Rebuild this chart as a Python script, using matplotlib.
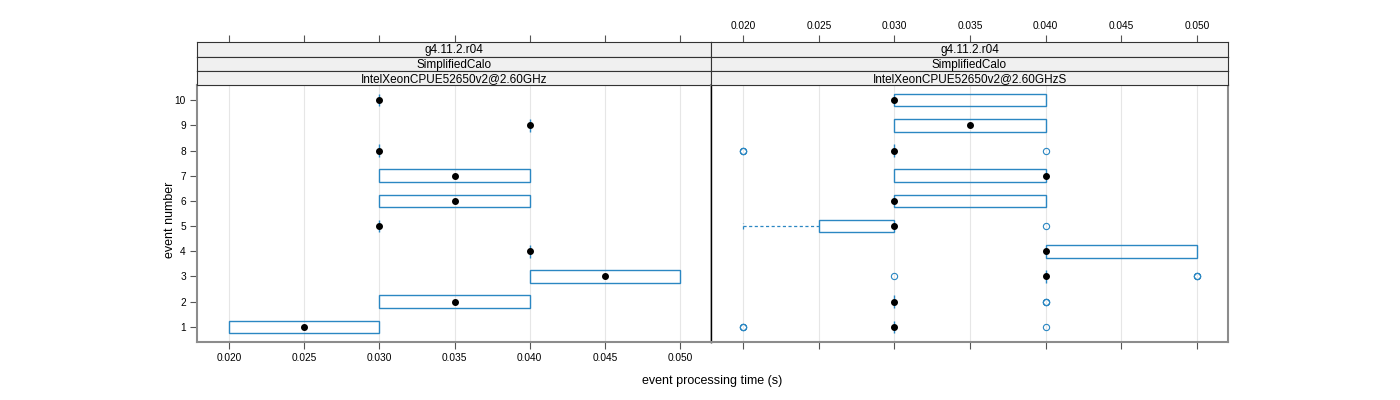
import matplotlib
matplotlib.use("Agg")
import matplotlib.pyplot as plt
from matplotlib.patches import Rectangle

plt.rcParams['font.family'] = ['Liberation Sans', 'DejaVu Sans']

events = [1, 2, 3, 4, 5, 6, 7, 8, 9, 10]
x_ticks = [0.020, 0.025, 0.030, 0.035, 0.040, 0.045, 0.050]
strip_top = "g4.11.2.r04"
strip_mid = "SimplifiedCalo"
strip_labels = ["IntelXeonCPUE52650v2@2.60GHz", "IntelXeonCPUE52650v2@2.60GHzS"]

# left panel: hinges, medians, whiskers, outliers
left_lo = [0.020, 0.030, 0.040, 0.040, 0.030, 0.030, 0.030, 0.030, 0.040, 0.030]
left_med = [0.025, 0.035, 0.045, 0.040, 0.030, 0.035, 0.035, 0.030, 0.040, 0.030]
left_hi = [0.030, 0.040, 0.050, 0.040, 0.030, 0.040, 0.040, 0.030, 0.040, 0.030]
left_wlo = list(left_lo)
left_whi = list(left_hi)
left_out = [[] for _ in events]

# right panel
right_lo = [0.030, 0.030, 0.040, 0.040, 0.025, 0.030, 0.030, 0.030, 0.030, 0.030]
right_med = [0.030, 0.030, 0.040, 0.040, 0.030, 0.030, 0.040, 0.030, 0.035, 0.030]
right_hi = [0.030, 0.030, 0.040, 0.050, 0.030, 0.040, 0.040, 0.030, 0.040, 0.040]
right_wlo = [0.030, 0.030, 0.040, 0.040, 0.020, 0.030, 0.030, 0.030, 0.030, 0.030]
right_whi = list(right_hi)
right_out = [
    [0.020, 0.020, 0.020, 0.040],
    [0.040, 0.040, 0.040],
    [0.030, 0.050, 0.050, 0.050],
    [],
    [0.040],
    [],
    [],
    [0.020, 0.020, 0.020, 0.040],
    [],
    [],
]

blue = "#2b87c2"
frame = "#8c8c8c"
W, H = 1400, 400
xlim = (0.01787, 0.05206)
fig = plt.figure(figsize=(14, 4), dpi=100)

panels = [
    (197, 711, left_lo, left_med, left_hi, left_wlo, left_whi, left_out),
    (711, 1228, right_lo, right_med, right_hi, right_wlo, right_whi, right_out),
]
y_plot_top, y_plot_bot = 85, 342
strip_edges = [42, 57, 71, 85]
tick_labels = ["%.3f" % t for t in x_ticks]

for i, (x0, x1, lo, med, hi, wlo, whi, outl) in enumerate(panels):
    ax = fig.add_axes([x0 / W, 1 - y_plot_bot / H, (x1 - x0) / W, (y_plot_bot - y_plot_top) / H])
    ax.set_xlim(*xlim)
    ax.set_ylim(0.4, 10.6)
    for t in x_ticks:
        ax.axvline(t, color="#e6e6e6", lw=0.8, zorder=0)
    for e, l, m, h, wl, wh, o in zip(events, lo, med, hi, wlo, whi, outl):
        ax.add_patch(Rectangle((l, e - 0.25), h - l, 0.5, fill=False, ec=blue, lw=1.0, zorder=2))
        if wl < l:
            ax.plot([wl, l], [e, e], color=blue, lw=0.9, ls=(0, (2.5, 2)), zorder=2)
            ax.plot([wl, wl], [e - 0.125, e + 0.125], color=blue, lw=0.9, ls=(0, (2.5, 2)), zorder=2)
        if wh > h:
            ax.plot([h, wh], [e, e], color=blue, lw=0.9, ls=(0, (2.5, 2)), zorder=2)
            ax.plot([wh, wh], [e - 0.125, e + 0.125], color=blue, lw=0.9, ls=(0, (2.5, 2)), zorder=2)
        for v in o:
            ax.plot(v, e, 'o', ms=4.5, mfc='none', mec=blue, mew=0.8, zorder=3)
        ax.plot(m, e, 'o', ms=4, color='black', zorder=4)
    ax.set_xticks(x_ticks)
    ax.set_xticklabels(tick_labels)
    ax.set_yticks(events)
    ax.tick_params(axis='both', direction='out', length=5, width=0.8, color='#555555',
                   labelsize=7.3, pad=3)
    ax.tick_params(axis='x', top=False, labeltop=False)
    if i == 0:
        ax.tick_params(axis='x', bottom=True, labelbottom=True)
        ax.tick_params(axis='y', left=True, right=False, labelleft=True)
        ax.spines['right'].set_color('black')
        ax.spines['right'].set_linewidth(1.0)
        for s in ['left', 'top', 'bottom']:
            ax.spines[s].set_color(frame)
            ax.spines[s].set_linewidth(1.5)
    else:
        ax.tick_params(axis='x', bottom=True, labelbottom=False)
        ax.tick_params(axis='y', left=False, right=False, labelleft=False)
        ax.spines['left'].set_color('black')
        ax.spines['left'].set_linewidth(1.0)
        for s in ['right', 'top', 'bottom']:
            ax.spines[s].set_color(frame)
            ax.spines[s].set_linewidth(1.5)

    texts = [strip_top, strip_mid, strip_labels[i]]
    for k in range(3):
        ya, yb = strip_edges[k], strip_edges[k + 1]
        sax = fig.add_axes([x0 / W, 1 - yb / H, (x1 - x0) / W, (yb - ya) / H])
        sax.set_facecolor("#f0f0f0")
        sax.set_xlim(*xlim)
        sax.set_yticks([])
        if k == 0:
            sax.set_xticks(x_ticks)
            sax.set_xticklabels(tick_labels)
            sax.tick_params(axis='x', bottom=False, labelbottom=False, top=True,
                            labeltop=(i == 1), direction='out', length=5, width=0.8,
                            color='#555555', labelsize=7.3, pad=3)
        else:
            sax.set_xticks([])
        for s in sax.spines.values():
            s.set_color("#333333")
            s.set_linewidth(0.8)
        sax.text(0.5, 0.45, texts[k], ha='center', va='center', fontsize=8.5,
                 transform=sax.transAxes)

fig.text(170 / W, 1 - 220 / H, "event number", rotation=90, ha='center', va='center', fontsize=9)
fig.text(712 / W, 1 - 381 / H, "event processing time (s)", ha='center', va='center', fontsize=9)

fig.savefig("out.png", dpi=100)
